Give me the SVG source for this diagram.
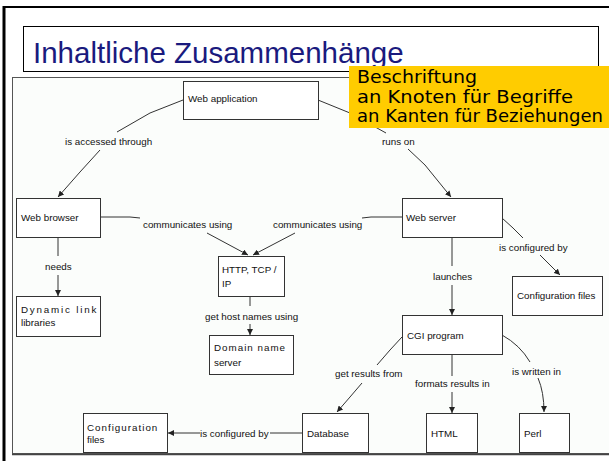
<svg xmlns="http://www.w3.org/2000/svg" width="609" height="461" viewBox="0 0 609 461">
<defs>
<style>
.node rect{fill:#ffffff;stroke:#333;stroke-width:1}
.node text,.lbl{font-family:"Liberation Sans",Arial,sans-serif;font-size:9.8px;fill:#111}
.sp1{letter-spacing:1.8px}
.sp2{letter-spacing:1px}
.edge path{fill:none;stroke:#333;stroke-width:1}
.note{font-family:"DejaVu Sans","Liberation Sans",sans-serif;font-size:17px;fill:#000}
</style>
<marker id="arr" viewBox="0 0 6 6" refX="6" refY="3" markerWidth="6" markerHeight="6" markerUnits="userSpaceOnUse" orient="auto">
<path d="M0,0 L6,3 L0,6 z" fill="#222"/>
</marker>
</defs>
<rect x="0" y="0" width="609" height="461" fill="#ffffff"/>
<!-- slide frame -->
<line x1="3" y1="7" x2="609" y2="7" stroke="#000" stroke-width="2"/>
<line x1="4" y1="6" x2="4" y2="461" stroke="#000" stroke-width="3"/>
<!-- title -->
<rect x="23.5" y="26.5" width="575" height="45" fill="#fff" stroke="#000" stroke-width="1"/>
<text x="33" y="63" font-family="Liberation Sans,Arial,sans-serif" font-size="29.5" fill="#1a1a7e">Inhaltliche Zusammenhänge</text>
<!-- diagram area -->
<rect x="12.5" y="77.5" width="610" height="376" fill="#fbfdfb" stroke="#555" stroke-width="1"/>
<line x1="12" y1="454.5" x2="609" y2="454.5" stroke="#444" stroke-width="1.5"/>

<g id="connectors" class="edge">
<path d="M183,100 L150,113 L117,132"/>
<path d="M100,150 L80,172 L58,197" marker-end="url(#arr)"/>
<path d="M318,100 L350,113 L386,133"/>
<path d="M408,149 L425,165 L451,197" marker-end="url(#arr)"/>
<path d="M100,217 L130,217 L140,218"/>
<path d="M207,233 L248,255" marker-end="url(#arr)"/>
<path d="M402,217 L371,217 L362,218"/>
<path d="M295,233 L253,255" marker-end="url(#arr)"/>
<path d="M58,237 L58,256"/>
<path d="M58,275 L58,296" marker-end="url(#arr)"/>
<path d="M250,296 L250,306"/>
<path d="M250,324 L250,335" marker-end="url(#arr)"/>
<path d="M502,218 L513,228 L523,238"/>
<path d="M540,255 L560,275" marker-end="url(#arr)"/>
<path d="M452,237 L452,266"/>
<path d="M452,285 L452,315" marker-end="url(#arr)"/>
<path d="M402,337 L390,350 L377,365"/>
<path d="M362,383 L350,397 L337,412" marker-end="url(#arr)"/>
<path d="M452,354 L452,376"/>
<path d="M452,392 L452,413" marker-end="url(#arr)"/>
<path d="M502,335 Q520,345 530,362"/>
<path d="M538,378 Q544,392 544,412" marker-end="url(#arr)"/>
<path d="M302,433 L270,433"/>
<path d="M200,433 L168,433" marker-end="url(#arr)"/>
<text class="lbl" x="65" y="144.5">is accessed through</text>
<text class="lbl" x="382" y="144.5">runs on</text>
<text class="lbl" x="143" y="227.5">communicates using</text>
<text class="lbl" x="273" y="227.5">communicates using</text>
<text class="lbl" x="45" y="269.5">needs</text>
<text class="lbl" x="205" y="319.5">get host names using</text>
<text class="lbl" x="499" y="250.5">is configured by</text>
<text class="lbl" x="433" y="279.5">launches</text>
<text class="lbl" x="335" y="376.5">get results from</text>
<text class="lbl" x="415" y="386.5">formats results in</text>
<text class="lbl" x="512" y="374.5">is written in</text>
<text class="lbl" x="200" y="436.5">is configured by</text>
</g>

<g id="web-application" class="node"><rect x="183.5" y="81.5" width="135" height="38"/><text x="188" y="101.5">Web application</text></g>
<g id="web-browser" class="node"><rect x="16.5" y="198.5" width="84" height="39"/><text x="21" y="220.5">Web browser</text></g>
<g id="web-server" class="node"><rect x="402.5" y="198.5" width="100" height="39"/><text x="406" y="220.5">Web server</text></g>
<g id="http-tcp-ip" class="node"><rect x="218.5" y="256.5" width="66" height="40"/><text x="222" y="272.5">HTTP, TCP /</text><text x="222" y="286.5">IP</text></g>
<g id="dynamic-link-libraries" class="node"><rect x="16.5" y="296.5" width="84" height="40"/><text class="sp1" x="21" y="312.5">Dynamic link</text><text x="21" y="325.5">libraries</text></g>
<g id="domain-name-server" class="node"><rect x="209.5" y="335.5" width="84" height="39"/><text class="sp2" x="214" y="350.5">Domain name</text><text x="214" y="365.5">server</text></g>
<g id="configuration-files-1" class="node"><rect x="512.5" y="276.5" width="90" height="39"/><text x="517" y="298.5">Configuration files</text></g>
<g id="cgi-program" class="node"><rect x="402.5" y="315.5" width="100" height="39"/><text x="407" y="338.5">CGI program</text></g>
<g id="database" class="node"><rect x="302.5" y="413.5" width="66" height="39"/><text x="307" y="436.5">Database</text></g>
<g id="html" class="node"><rect x="426.5" y="413.5" width="51" height="39"/><text x="431" y="436.5">HTML</text></g>
<g id="perl" class="node"><rect x="519.5" y="413.5" width="50" height="39"/><text x="524" y="436.5">Perl</text></g>
<g id="configuration-files-2" class="node"><rect x="83.5" y="413.5" width="84" height="39"/><text class="sp2" x="87" y="430.5">Configuration</text><text x="87" y="442.5">files</text></g>

<g id="annotation">
<rect x="349" y="66" width="260" height="62" fill="#ffcc00"/>
<text class="note" x="357" y="83" textLength="120" lengthAdjust="spacingAndGlyphs">Beschriftung</text>
<text class="note" x="357" y="102.5" textLength="216" lengthAdjust="spacingAndGlyphs">an Knoten für Begriffe</text>
<text class="note" x="357" y="122" textLength="246" lengthAdjust="spacingAndGlyphs">an Kanten für Beziehungen</text>
</g>
</svg>
